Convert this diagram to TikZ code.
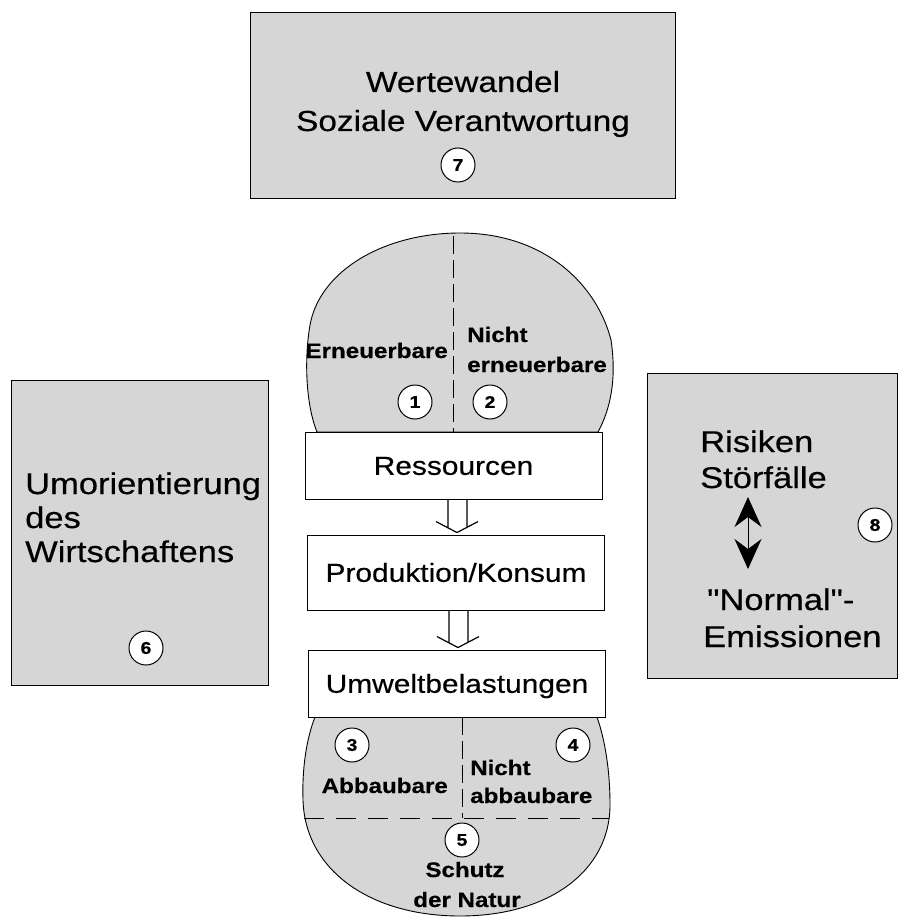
\documentclass[tikz,border=0pt]{standalone}
\usepackage{fontspec}
\setmainfont[FakeStretch=1.15,FakeBold=0.4,Ligatures=TeXOff]{Liberation Sans}
\usetikzlibrary{positioning,arrows.meta,calc}

\tikzset{
  stipple/.style={draw=black,line width=0.9pt,fill=black!16},
  flowbox/.style={draw=black,line width=0.9pt,fill=white,minimum width=297pt,
    text height=18.6pt,text depth=0pt,font=\fontsize{26}{30}\selectfont},
  numcirc/.style={circle,draw=black,line width=1pt,fill=white,minimum size=34pt,
    inner sep=0pt,font=\bfseries\fontsize{17}{17}\selectfont},
  bigtext/.style={inner sep=0pt,font=\fontsize{30}{36}\selectfont},
  toptext/.style={inner sep=0pt,font=\fontsize{29}{36}\selectfont},
  blobtext/.style={inner sep=0pt,font=\bfseries\fontsize{21}{25}\selectfont},
  cutline/.style={line width=0.8pt,dash pattern=on 18pt off 6pt},
  openarr/.style={line width=1.2pt},
  bothways/.style={line width=1pt,
    {Stealth[length=30pt,width=27pt,inset=10pt]}-{Stealth[length=30pt,width=27pt,inset=10pt]}},
}

\begin{document}
\begin{tikzpicture}[x=1pt,y=-1pt]
\useasboundingbox (0,0) rectangle (899,917);

% outer boxes
\node[stipple,minimum width=425pt,minimum height=186pt] (werte) at (462.5,105) {};
\node[stipple,minimum width=257pt,minimum height=305pt] (wirt) at (139.5,532.5) {};
\node[stipple,minimum width=250pt,minimum height=305pt] (risk) at (772.5,525.5) {};

% resources (top) and sinks (bottom)
\draw[stipple] (317,432) .. controls (306,405) and (304,360) .. (310,325)
  .. controls (320,270) and (385,233) .. (460,233)
  .. controls (545,233) and (597,285) .. (611,340)
  .. controls (617,380) and (610,410) .. (598,432) -- cycle;
\draw[stipple] (315,717) .. controls (306,740) and (302,770) .. (303,800)
  .. controls (305,870) and (370,916) .. (460,916)
  .. controls (550,916) and (610,870) .. (610,805)
  .. controls (610,770) and (605,740) .. (597,717) -- cycle;

% chain
\node[flowbox,minimum height=67pt] (res) at (453.5,465.5) {Ressourcen};
\node[flowbox,minimum height=75pt] (prod) at (456,572.5) {Produktion/Konsum};
\node[flowbox,minimum height=67pt] (umw) at (457,683.5) {Umweltbelastungen};

\foreach \a/\b in {res/prod,prod/umw}
{
  \draw[openarr] ($(\b.north |- \a.south)+(-8,0)$) -- ($(\b.north)+(-8,-7)$)
                 ($(\b.north |- \a.south)+(11,0)$) -- ($(\b.north)+(11,-7)$)
                 ($(\b.north)+(-20,-13)$) -- ($(\b.north)+(1,-2)$) -- ($(\b.north)+(22,-13)$);
}

% dividing lines
\coordinate (rtop) at (453,236);
\coordinate (rbot) at (453,432);
\draw[cutline] (rtop) -- (rbot);
\coordinate (stop) at (462,717);
\coordinate (sbot) at (462,818);
\draw[cutline] (stop) -- (sbot);
\coordinate (sleft) at (304,818);
\coordinate (sright) at (609,818);
\draw[cutline,dash pattern=on 20pt off 12pt] (sleft) -- (sright);

% 7
\node[toptext,anchor=base] (t7a) at (463,92) {Wertewandel};
\node[toptext,anchor=base] (t7b) at (463,131) {Soziale Verantwortung};
\node[numcirc] (c7) at (458,165) {7};

% 6
\node[bigtext,anchor=base west] (t6a) at (25,494) {Umorientierung};
\node[bigtext,anchor=base west] (t6b) at (25,528) {des};
\node[bigtext,anchor=base west] (t6c) at (25,562) {Wirtschaftens};
\node[numcirc] (c6) at (146,648) {6};

% 8
\node[bigtext,anchor=base west] (t8a) at (700,452) {Risiken};
\node[bigtext,anchor=base west] (t8b) at (700,488) {Störfälle};
\node[bigtext,anchor=base west] (t8c) at (707,610) {"Normal"-};
\node[bigtext,anchor=base west] (t8d) at (703,647) {Emissionen};
\coordinate (aup) at (748,497);
\coordinate (adn) at (748,569);
\draw[bothways] (aup) -- (adn);
\node[numcirc] (c8) at (875,525) {8};

% 1 and 2
\node[blobtext,anchor=base east] (t1) at (448,358) {Erneuerbare};
\node[blobtext,anchor=base west] (t2a) at (467,342) {Nicht};
\node[blobtext,anchor=base west] (t2b) at (467,372) {erneuerbare};
\node[numcirc] (c1) at (415,402) {1};
\node[numcirc] (c2) at (490,402) {2};

% 3, 4 and 5
\node[blobtext,anchor=base east] (t3) at (448,793) {Abbaubare};
\node[blobtext,anchor=base west] (t4a) at (470,775) {Nicht};
\node[blobtext,anchor=base west] (t4b) at (470,803) {abbaubare};
\node[numcirc] (c3) at (352,745) {3};
\node[numcirc] (c4) at (573,745) {4};
\node[numcirc] (c5) at (462,840) {5};
\node[blobtext,anchor=base] (t5a) at (465,877) {Schutz};
\node[blobtext,anchor=base] (t5b) at (467,907) {der Natur};

\end{tikzpicture}
\end{document}
